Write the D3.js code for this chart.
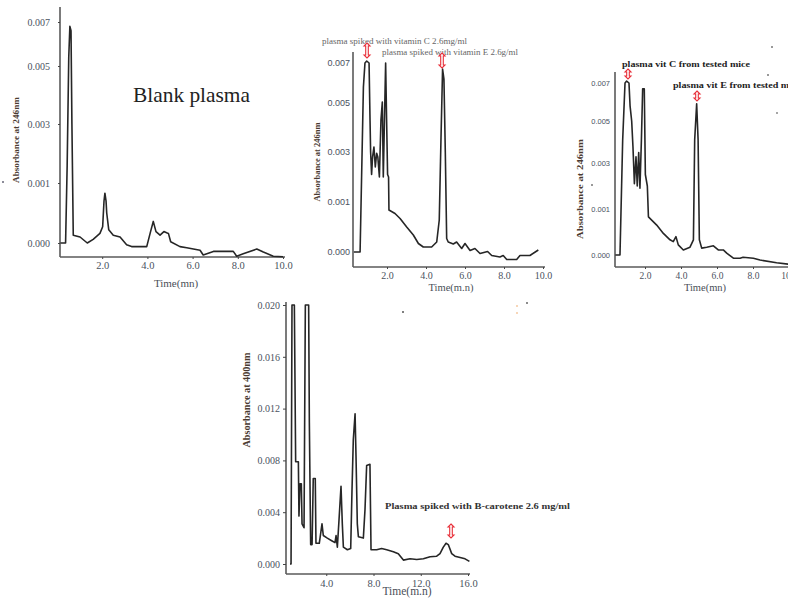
<!DOCTYPE html>
<html><head><meta charset="utf-8">
<script src="https://cdn.jsdelivr.net/npm/d3@7"></script>
<style>body{margin:0;background:#fff}svg{display:block}</style>
</head><body>
<svg id="c" width="788" height="598"></svg>
<script>
// ---------------- data ----------------
const yTicksVit = [0, 0.001, 0.003, 0.005, 0.007];
const yTicksCar = [0, 0.004, 0.008, 0.012, 0.016, 0.020];
const xTicks10 = [2, 4, 6, 8, 10];
const xTicks16 = [4, 8, 12, 16];
const yTitle246 = "Absorbance at 246nm";
const yTitle400 = "Absorbance at 400nm";

// Panel 1 : blank plasma
const p1Time = [0.15,0.38,0.45,0.52,0.57,0.62,0.66,0.72,1.02,1.34,1.6,1.9,2.02,2.08,2.12,2.17,2.2,2.29,2.49,2.79,3.08,3.3,3.97,4.12,4.26,4.38,4.56,4.73,4.85,4.93,5.03,5.44,5.74,6.33,6.47,6.92,7.8,7.95,8.24,8.84,9.13,9.57,10.0];
const p1Abs  = [0,0,0.0016,0.0054,0.0068,0.0066,0.003,0.00013,0.0001,0,0.00006,0.00016,0.00027,0.0007,0.00083,0.0007,0.0005,0.00022,0.00013,0.0001,-0.00003,-0.00006,-0.00006,0.00016,0.00036,0.00019,0.00013,0.00019,0.00017,0.00016,0.00002,-0.00006,-0.00008,-0.00012,-0.0002,-0.00014,-0.00014,-0.00022,-0.00018,-0.0001,-0.00015,-0.00022,-0.00023];

// Panel 2 : plasma spiked with vitamin C and E
const p2Time = [0.3,0.62,0.79,0.87,0.96,1.08,1.13,1.16,1.21,1.26,1.33,1.4,1.47,1.53,1.61,1.69,1.76,1.81,1.87,1.93,1.98,2.03,2.08,2.1,2.41,2.67,3.01,3.35,3.61,3.86,4.29,4.55,4.68,4.77,4.85,4.92,4.99,5.06,5.14,5.4,5.57,5.83,6.0,6.26,6.51,6.77,7.16,7.37,7.79,7.96,8.14,8.65,8.82,9.33,9.76];
const p2Abs  = [0,0,0.0058,0.007,0.0071,0.007,0.0043,0.003,0.0021,0.0028,0.0032,0.0024,0.00295,0.0028,0.002,0.0043,0.00505,0.002,0.0043,0.007,0.0043,0.0021,0.002,0.00084,0.00077,0.00067,0.0005,0.00034,0.00017,0.0001,0.0001,0.0002,0.00064,0.0036,0.0067,0.0062,0.003,0.00027,0.0002,0.00016,0.0002,0.00007,0.00017,0.00003,0.00007,-0.00003,0.00001,-0.00007,-0.0001,-0.00007,-0.00015,-0.00015,-0.00007,-0.00007,0.00004];

// Panel 3 : plasma from tested mice
const p3Time = [0.35,0.61,0.76,0.89,0.98,1.11,1.17,1.26,1.33,1.41,1.5,1.57,1.65,1.72,1.8,1.87,1.96,2.02,2.13,2.19,2.65,3.02,3.39,3.57,3.72,3.85,4.13,4.5,4.69,4.76,4.87,4.95,5.02,5.15,5.43,5.8,6.07,6.35,6.54,6.91,7.28,7.45,8.02,8.39,9.31,9.96];
const p3Abs  = [0,0,0.0041,0.007,0.0071,0.007,0.0058,0.005,0.0038,0.0021,0.0033,0.002,0.0035,0.0019,0.0041,0.0067,0.0067,0.0025,0.002,0.00083,0.00065,0.00047,0.00033,0.00029,0.0004,0.00022,0.00011,0.00017,0.00033,0.0041,0.0059,0.0041,0.00033,0.00015,0.00017,0.0002,0.00011,0.00011,0.00004,-0.00007,-0.00007,-0.00005,-0.00007,-0.00011,-0.00017,-0.0002];

// Panel 4 : plasma spiked with B-carotene
const p4Time = [0.93,1.02,1.1,1.3,1.41,1.64,1.69,1.78,1.89,1.95,2.12,2.23,2.51,2.57,2.68,2.8,2.9,3.07,3.13,3.41,3.64,3.75,4.09,4.46,4.74,4.83,4.94,5.08,5.25,5.36,5.45,5.79,6.07,6.18,6.29,6.44,6.52,6.63,6.72,7.14,7.28,7.42,7.7,7.79,8.27,8.69,9.12,9.68,10.1,10.53,11.09,11.66,12.22,12.79,13.35,13.63,13.91,14.14,14.33,14.62,14.9,15.33,15.75,16.12];
const p4Abs  = [0,0,0.020,0.020,0.0079,0.0079,0.0037,0.0062,0.0062,0.0031,0.0028,0.020,0.020,0.0109,0.0015,0.0015,0.0066,0.0066,0.0016,0.0016,0.0031,0.0022,0.002,0.0018,0.00165,0.0022,0.0013,0.0034,0.006,0.0031,0.0013,0.0011,0.0012,0.0057,0.0096,0.0116,0.0083,0.0031,0.0021,0.002,0.0042,0.0076,0.0077,0.0011,0.0011,0.0012,0.0011,0.00095,0.0008,0.0003,0.0004,0.00035,0.0004,0.00056,0.0006,0.0008,0.0013,0.0016,0.0015,0.0008,0.0006,0.0005,0.0004,0.0002];

// ---------------- drawing ----------------
const svg = d3.select("#c");
const SERIF = "'Liberation Serif','Times New Roman',serif";
const SANS = "'Liberation Sans',Arial,sans-serif";
const axisCol = "#5a5a5a", tickCol = "#4a5260", lineCol = "#262626";

function panel(o) {
  const x = d3.scaleLinear().domain(o.xDomain).range(o.xRange);
  const y = d3.scaleLinear().domain(o.yDomain).range(o.yRange);
  const g = svg.append("g");
  g.append("line").attr("x1", o.ax).attr("x2", o.ax).attr("y1", o.top).attr("y2", o.xAxisY)
    .attr("stroke", axisCol).attr("stroke-width", 1.6);
  g.append("line").attr("x1", o.ax).attr("x2", o.xEnd).attr("y1", o.xAxisY).attr("y2", o.xAxisY)
    .attr("stroke", axisCol).attr("stroke-width", 1.6);
  const ya = d3.axisLeft(y).tickValues(o.yTicks).tickFormat(d3.format(".3f"))
    .tickSize(o.yTickSize).tickPadding(o.yPad);
  const yg = g.append("g").attr("transform", `translate(${o.ax},0)`).call(ya);
  yg.select(".domain").remove();
  yg.selectAll("line").attr("stroke", "#444");
  yg.selectAll("text").attr("fill", tickCol).style("font-family", o.yFont).style("font-size", o.yFs + "px");
  const xa = d3.axisBottom(x).tickValues(o.xTicks).tickFormat(d3.format(".1f"))
    .tickSize(2).tickPadding(o.xPad);
  const xg = g.append("g").attr("transform", `translate(0,${o.xAxisY})`).call(xa);
  xg.select(".domain").remove();
  xg.selectAll("line").attr("stroke", "#444");
  xg.selectAll("text").attr("fill", tickCol).style("font-family", SERIF).style("font-size", o.xFs + "px");
  const pts = o.t.map((d, i) => [d, o.v[i]]);
  g.append("path").datum(pts)
    .attr("d", d3.line().x(d => x(d[0])).y(d => y(d[1])))
    .attr("fill", "none").attr("stroke", lineCol).attr("stroke-width", 1.6)
    .attr("stroke-linejoin", "round");
  g.append("text").attr("x", o.xtX).attr("y", o.xtY).attr("text-anchor", "middle")
    .style("font-family", SERIF).style("font-size", o.xtFs + "px").attr("fill", "#4a4f58")
    .text(o.xTitle);
  g.append("text").attr("transform", `translate(${o.ytX},${o.ytY}) rotate(-90)`)
    .attr("text-anchor", "middle").style("font-family", SERIF).style("font-weight", "bold")
    .style("font-size", o.ytFs + "px").attr("fill", "#4a3a30")
    .attr("textLength", o.ytLen).attr("lengthAdjust", "spacingAndGlyphs")
    .text(o.yTitle);
  return {x, y};
}

panel({xDomain:[0,10], xRange:[57,283], yDomain:yTicksVit, yRange:[243,183,124,66,22],
  ax:60, top:7, xAxisY:257, xEnd:285, yTicks:yTicksVit, xTicks:xTicks10,
  yTickSize:2, yPad:8, yFont:SERIF, yFs:10, xPad:3, xFs:10.5,
  t:p1Time, v:p1Abs, xTitle:"Time(mn)", xtX:176, xtY:287, xtFs:11,
  yTitle:yTitle246, ytX:19, ytY:140, ytFs:9, ytLen:86});

panel({xDomain:[0,10], xRange:[348,543], yDomain:yTicksVit, yRange:[252,202,152,103,63],
  ax:353, top:52, xAxisY:267, xEnd:545, yTicks:yTicksVit, xTicks:xTicks10,
  yTickSize:0, yPad:3, yFont:SANS, yFs:9, xPad:3, xFs:10,
  t:p2Time, v:p2Abs, xTitle:"Time(m.n)", xtX:451, xtY:291, xtFs:10.5,
  yTitle:yTitle246, ytX:320, ytY:162, ytFs:8.5, ytLen:79});

panel({xDomain:[0,10], xRange:[609,789], yDomain:yTicksVit, yRange:[255,209,163,121,83],
  ax:615, top:72, xAxisY:267, xEnd:788, yTicks:yTicksVit, xTicks:xTicks10,
  yTickSize:0, yPad:5, yFont:SANS, yFs:7.5, xPad:3, xFs:9.5,
  t:p3Time, v:p3Abs, xTitle:"Time(mn)", xtX:705, xtY:291, xtFs:10.5,
  yTitle:yTitle246, ytX:583, ytY:189, ytFs:9, ytLen:100});

panel({xDomain:[0,16], xRange:[279,468], yDomain:[0,0.020], yRange:[564,305],
  ax:286, top:302, xAxisY:574, xEnd:470, yTicks:yTicksCar, xTicks:xTicks16,
  yTickSize:3, yPad:3, yFont:SERIF, yFs:10, xPad:4, xFs:10.5,
  t:p4Time, v:p4Abs, xTitle:"Time(m.n)", xtX:407, xtY:595, xtFs:11.5,
  yTitle:yTitle400, ytX:250, ytY:400, ytFs:10, ytLen:95});

// ---------------- annotations ----------------
function label(x, y, txt, fs, len, bold, col) {
  svg.append("text").attr("x", x).attr("y", y).text(txt)
    .style("font-family", SERIF).style("font-size", fs + "px")
    .style("font-weight", bold ? "bold" : "normal").attr("fill", col)
    .attr("textLength", len).attr("lengthAdjust", "spacingAndGlyphs");
}
label(133, 102, "Blank plasma", 21, 117, false, "#222");
label(322, 44, "plasma spiked with vitamin C 2.6mg/ml", 8.5, 145, false, "#666");
label(382, 55, "plasma spiked with vitamin E 2.6g/ml", 8.5, 136, false, "#666");
label(622, 67, "plasma vit C from tested mice", 8.5, 128, true, "#222");
label(673, 88, "plasma vit E from tested mice", 8.5, 128, true, "#222");
label(385, 509, "Plasma spiked with B-carotene 2.6 mg/ml", 9, 185, true, "#333");

function arrow(cx, y1, y2) {
  const h = 3, w = 1.3;
  const p = `M${cx},${y1} L${cx+h},${y1+h} L${cx+w},${y1+h} L${cx+w},${y2-h} L${cx+h},${y2-h} L${cx},${y2} L${cx-h},${y2-h} L${cx-w},${y2-h} L${cx-w},${y1+h} L${cx-h},${y1+h} Z`;
  svg.append("path").attr("d", p).attr("fill", "#fff").attr("stroke", "#e8303a").attr("stroke-width", 1.1);
}
arrow(367, 43, 58);
arrow(442, 53, 68);
arrow(628, 69, 79);
arrow(697, 91, 101);
arrow(451, 524, 538);

[[403,312,"#555"],[527,303,"#666"],[772,47,"#777"],[768,75,"#777"],[777,113,"#888"],[592,185,"#777"],[517,306,"#f5c9a0"],[517,313,"#f5c9a0"],[3,182,"#667"]]
  .forEach(d => svg.append("circle").attr("cx", d[0]).attr("cy", d[1]).attr("r", 1).attr("fill", d[2]));
</script>
</body></html>
